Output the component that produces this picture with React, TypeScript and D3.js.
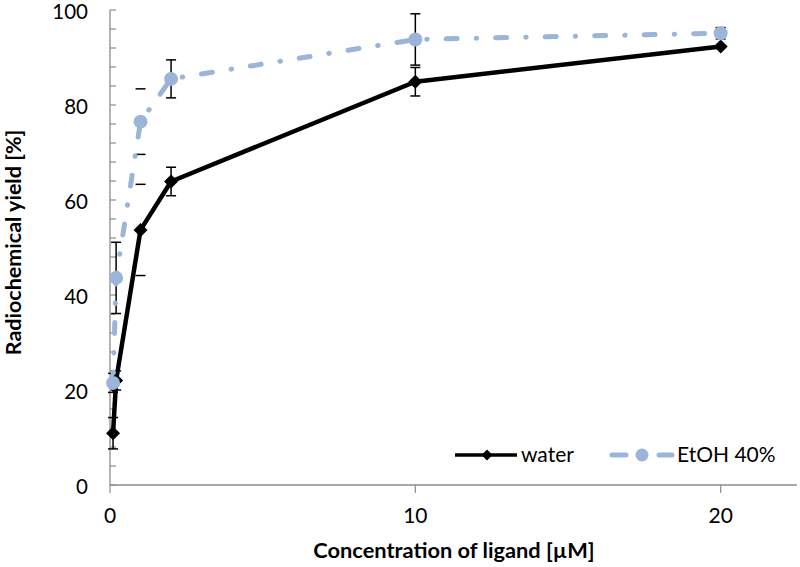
import React from "react";
import * as d3 from "d3";

// ---- data ----
const waterX = [0.1, 0.2, 1, 2, 10, 20];
const waterY = [10.9, 22.0, 53.7, 63.9, 84.9, 92.3];
const waterErr = [3.3, 2.0, 9.6, 3.0, 3.0, 0];

const etohX = [0.1, 0.2, 1, 2, 10, 20];
const etohY = [21.5, 43.6, 76.5, 85.5, 93.8, 95.1];
const etohErr = [2.0, 7.5, 6.9, 4.0, 5.4, 1.2];

// error bars at these concentrations show only their caps
const capsOnlyX = [1];

const xTicks = [0, 10, 20];
const yTicks = [0, 20, 40, 60, 80, 100];
const yMinorTicks = d3.range(0, 101, 4);

const seriesNames = ["water", "EtOH 40%"];

const W = 800;
const H = 567;
const FONT = "Lato, 'Open Sans', sans-serif";
const BLUE = "#9bb5d9";
const AXIS = "#8c8c8c";

export default function App() {
  const x = d3.scaleLinear().domain([0, 22.5]).range([110, 797]);
  const y = d3.scaleLinear().domain([0, 100]).range([485, 10]);

  const water = waterX.map((v, i) => ({ x: v, y: waterY[i], e: waterErr[i] }));
  const etoh = etohX.map((v, i) => ({ x: v, y: etohY[i], e: etohErr[i] }));

  const line = d3
    .line<{ x: number; y: number }>()
    .x((d) => x(d.x))
    .y((d) => y(d.y));

  const diamond = (cx: number, cy: number, r: number) =>
    `M${cx},${cy - r}L${cx + r},${cy}L${cx},${cy + r}L${cx - r},${cy}Z`;

  const errBars = (data: { x: number; y: number; e: number }[], key: string) =>
    data
      .filter((d) => d.e > 0)
      .map((d, i) => {
        const cx = x(d.x);
        const y1 = y(d.y + d.e);
        const y2 = y(d.y - d.e);
        const capsOnly = capsOnlyX.includes(d.x);
        return (
          <g key={key + i} stroke="#000" strokeWidth={1.5}>
            {!capsOnly && <line x1={cx} x2={cx} y1={y1} y2={y2} />}
            <line x1={cx - 5} x2={cx + 5} y1={y1} y2={y1} />
            <line x1={cx - 5} x2={cx + 5} y1={y2} y2={y2} />
          </g>
        );
      });

  const dash = "11 19 0.5 19";

  return (
    <svg
      width={W}
      height={H}
      style={{ position: "absolute", left: 0, top: 0, background: "#fff" }}
      fontFamily={FONT}
    >
      <rect x={0} y={0} width={W} height={H} fill="#fff" />

      {/* y axis */}
      <line x1={x(0)} x2={x(0)} y1={y(0)} y2={y(100)} stroke={AXIS} strokeWidth={1.3} />
      {yMinorTicks.map((t) => (
        <line key={"ym" + t} x1={x(0)} x2={x(0) + 6} y1={y(t)} y2={y(t)} stroke={AXIS} strokeWidth={1.2} />
      ))}
      {yTicks.map((t) => (
        <text key={"yl" + t} x={88} y={y(t)} dy="0.42em" textAnchor="end" fontSize={20.5} fill="#000">
          {t}
        </text>
      ))}

      {/* x axis */}
      <line x1={x(0)} x2={x(22.5)} y1={y(0)} y2={y(0)} stroke={AXIS} strokeWidth={1.3} />
      {xTicks.map((t) => (
        <g key={"xt" + t}>
          <line x1={x(t)} x2={x(t)} y1={y(0)} y2={y(0) + 8} stroke={AXIS} strokeWidth={1.2} />
          <text x={x(t)} y={523} textAnchor="middle" fontSize={21} fill="#000">
            {t}
          </text>
        </g>
      ))}

      {/* axis titles */}
      <text
        transform={`translate(21,${(y(0) + y(100)) / 2 - 5}) rotate(-90)`}
        textAnchor="middle"
        fontSize={21.5}
        fontWeight="bold"
        fill="#000"
      >
        Radiochemical yield [%]
      </text>
      <text x={454} y={558} textAnchor="middle" fontSize={21.8} fontWeight="bold" fill="#000">
        Concentration of ligand [µM]
      </text>

      {/* error bars */}
      {errBars(water, "we")}
      {errBars(etoh, "ee")}

      {/* lines */}
      <path d={line(water) || ""} fill="none" stroke="#000" strokeWidth={4.5} strokeLinejoin="round" />
      <path
        d={line(etoh) || ""}
        fill="none"
        stroke={BLUE}
        strokeWidth={5}
        strokeDasharray={dash}
        strokeLinecap="round"
      />

      {/* markers */}
      {water.map((d, i) => (
        <path key={"wm" + i} d={diamond(x(d.x), y(d.y), 7)} fill="#000" />
      ))}
      {etoh.map((d, i) => (
        <circle key={"em" + i} cx={x(d.x)} cy={y(d.y)} r={7} fill={BLUE} />
      ))}

      {/* legend */}
      <g>
        <line x1={455} x2={517} y1={455} y2={455} stroke="#000" strokeWidth={3.5} />
        <path d={diamond(487, 455, 5.5)} fill="#000" />
        <text x={521} y={455} dy="0.35em" fontSize={21} fill="#000">
          {seriesNames[0]}
        </text>
        <line x1={612} x2={626} y1={455} y2={455} stroke={BLUE} strokeWidth={5} strokeLinecap="round" />
        <circle cx={642} cy={455} r={6.5} fill={BLUE} />
        <line x1={659} x2={672} y1={455} y2={455} stroke={BLUE} strokeWidth={5} strokeLinecap="round" />
        <text x={677} y={455} dy="0.35em" fontSize={21} fill="#000">
          {seriesNames[1]}
        </text>
      </g>
    </svg>
  );
}
